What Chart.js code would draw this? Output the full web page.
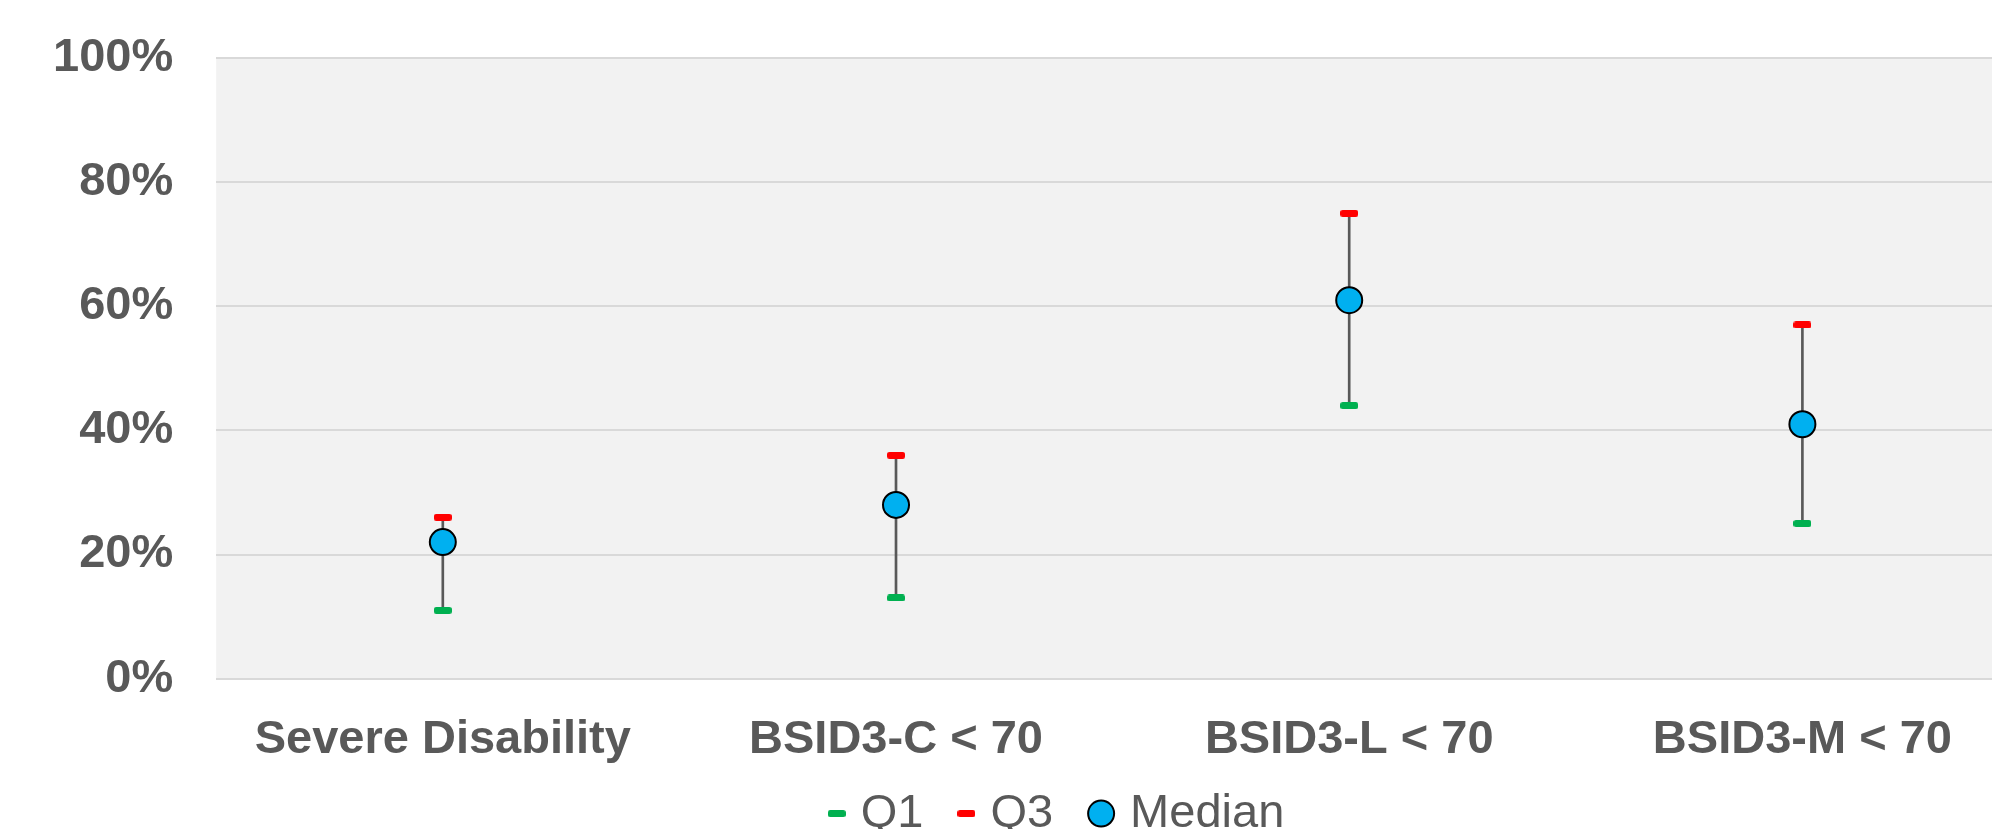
<!DOCTYPE html>
<html>
<head>
<meta charset="utf-8">
<script src="https://cdn.jsdelivr.net/npm/chart.js@4/dist/chart.umd.min.js"></script>
<style>
  html, body { margin: 0; padding: 0; background: #fff; overflow: hidden; }
  #wrap { width: 1992px; height: 829px; overflow: hidden; position: relative; }
  #chart { position: absolute; left: 0; top: -13px; }
</style>
</head>
<body>
<div id="wrap"><canvas id="chart" width="2112" height="842"></canvas></div>
<script>
// Categories and quartile values (%)
const categories = ['Severe Disability', 'BSID3-C < 70', 'BSID3-L < 70', 'BSID3-M < 70'];
const q1Values = [11, 13, 44, 25];
const q3Values = [26, 36, 75, 57];
const medianValues = [22, 28, 61, 41];
const yTicks = [0, 20, 40, 60, 80, 100];

const labelFont = "'Liberation Sans', Arial, sans-serif";
const textColor = '#595959';

// small rounded dash used as marker for Q1 / Q3
function makeDash(color) {
  const w = 18, h = 7, r = 2.5;
  const c = document.createElement('canvas');
  c.width = w;
  c.height = h;
  const g = c.getContext('2d');
  g.fillStyle = color;
  g.beginPath();
  g.moveTo(r, 0);
  g.lineTo(w - r, 0);
  g.arc(w - r, r, r, -Math.PI / 2, 0);
  g.lineTo(w, h - r);
  g.arc(w - r, h - r, r, 0, Math.PI / 2);
  g.lineTo(r, h);
  g.arc(r, h - r, r, Math.PI / 2, Math.PI);
  g.lineTo(0, r);
  g.arc(r, r, r, Math.PI, Math.PI * 1.5);
  g.closePath();
  g.fill();
  return c;
}

// grey plot area background
const plotBackground = {
  id: 'plotBackground',
  beforeDraw(chart) {
    const { ctx, chartArea } = chart;
    ctx.save();
    ctx.fillStyle = '#F2F2F2';
    ctx.fillRect(chartArea.left, chartArea.top, chartArea.right - chartArea.left, chartArea.bottom - chartArea.top);
    ctx.restore();
  }
};

// legend drawn by hand so the spacing can follow the original (Excel-like)
const bottomLegend = {
  id: 'bottomLegend',
  afterDraw(chart) {
    const ctx = chart.ctx;
    const items = chart.data.datasets.filter(ds => ds.label);
    const y = chart.chartArea.bottom + 135;
    const afterMarker = 15, between = 34;
    ctx.save();
    ctx.font = '47px ' + labelFont;
    const parts = items.map(ds => ({
      ds,
      mw: ds.pointStyle === 'circle' ? (ds.pointRadius + 1) * 2 : 18,
      tw: ctx.measureText(ds.label).width
    }));
    let total = 0;
    parts.forEach((p, i) => { total += p.mw + afterMarker + p.tw + (i ? between : 0); });
    let x = chart.width / 2 - total / 2;
    parts.forEach(p => {
      const ds = p.ds;
      ctx.fillStyle = ds.backgroundColor;
      ctx.strokeStyle = ds.borderColor;
      ctx.lineWidth = ds.pointBorderWidth || 0;
      Chart.helpers.drawPoint(ctx, {
        pointStyle: ds.pointStyle,
        radius: ds.pointRadius || 9,
        borderWidth: ds.pointBorderWidth || 0,
        rotation: 0
      }, x + p.mw / 2, y);
      x += p.mw + afterMarker;
      ctx.fillStyle = textColor;
      ctx.textBaseline = 'middle';
      ctx.textAlign = 'left';
      ctx.fillText(ds.label, x, y);
      x += p.tw + between;
    });
    ctx.restore();
  }
};

const ctx = document.getElementById('chart').getContext('2d');
new Chart(ctx, {
  data: {
    labels: categories,
    datasets: [
      {
        type: 'line',
        label: 'Q1',
        data: q1Values,
        showLine: false,
        pointStyle: makeDash('#00B050'),
        backgroundColor: '#00B050',
        borderColor: '#00B050'
      },
      {
        type: 'line',
        label: 'Q3',
        data: q3Values,
        showLine: false,
        pointStyle: makeDash('#FF0000'),
        backgroundColor: '#FF0000',
        borderColor: '#FF0000'
      },
      {
        type: 'line',
        label: 'Median',
        data: medianValues,
        showLine: false,
        pointStyle: 'circle',
        pointRadius: 13,
        pointHoverRadius: 13,
        pointBorderWidth: 2,
        backgroundColor: '#00B0F0',
        borderColor: '#000000',
        borderWidth: 2
      },
      {
        // high-low line from Q1 to Q3
        type: 'bar',
        label: '',
        data: q1Values.map((v, i) => [v, q3Values[i]]),
        backgroundColor: '#595959',
        barThickness: 2,
        order: 10
      }
    ]
  },
  options: {
    responsive: false,
    devicePixelRatio: 1,
    animation: false,
    layout: {
      padding: { left: 10, right: 83, top: 0, bottom: 28 }
    },
    scales: {
      x: {
        offset: true,
        grid: { display: false, drawTicks: false },
        border: { display: false },
        ticks: {
          color: textColor,
          padding: 33,
          font: { family: labelFont, size: 47, weight: 'bold' }
        }
      },
      y: {
        min: 0,
        max: 100,
        afterBuildTicks(axis) {
          axis.ticks = yTicks.map(v => ({ value: v }));
        },
        grid: { color: '#D9D9D9', lineWidth: 2, drawTicks: false },
        border: { display: false },
        ticks: {
          color: textColor,
          padding: 43,
          font: { family: labelFont, size: 47, weight: 'bold' },
          callback: v => v + '%'
        }
      }
    },
    plugins: {
      title: { display: false },
      tooltip: { enabled: false },
      legend: { display: false }
    }
  },
  plugins: [plotBackground, bottomLegend]
});
</script>
</body>
</html>
